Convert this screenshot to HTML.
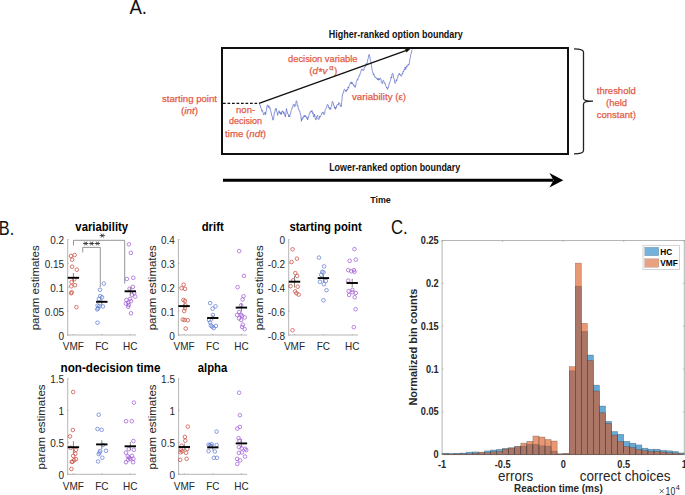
<!DOCTYPE html>
<html><head><meta charset="utf-8"><style>
html,body{margin:0;padding:0;background:#fff;width:685px;height:495px;overflow:hidden}
svg{display:block;font-family:"Liberation Sans",sans-serif}
</style></head><body>
<svg width="685" height="495" viewBox="0 0 685 495">
<text x="129.4" y="14.4" font-size="20" fill="#111" textLength="17.6" lengthAdjust="spacingAndGlyphs">A.</text>
<text x="328.8" y="37.9" font-size="10" font-weight="bold" fill="#111" textLength="134" lengthAdjust="spacingAndGlyphs">Higher-ranked option boundary</text>
<rect x="222" y="48" width="346" height="106" fill="none" stroke="#111" stroke-width="2"/>
<text x="329.2" y="170.9" font-size="10" font-weight="bold" fill="#111" textLength="131" lengthAdjust="spacingAndGlyphs">Lower-ranked option boundary</text>
<line x1="223" y1="180.3" x2="553" y2="180.3" stroke="#000" stroke-width="3"/>
<path d="M549.4,172.9 L563.3,180.2 L549.4,187.4 L553.6,180.2 Z" fill="#000"/>
<text x="370.2" y="202.7" font-size="9.3" font-weight="bold" fill="#111" textLength="20.6" lengthAdjust="spacingAndGlyphs">Time</text>
<path d="M574,48.8 Q583.5,48.8 583.5,52 L583.5,98.5 Q583.5,101.2 593,101.2 Q583.5,101.2 583.5,104 L583.5,150.5 Q583.5,153.8 574,153.8" fill="none" stroke="#222" stroke-width="1.3"/>
<text x="616.3" y="94.1" font-size="9.8" fill="#e25a45" stroke="#e25a45" stroke-width="0.25" text-anchor="middle" textLength="39" lengthAdjust="spacingAndGlyphs">threshold</text>
<text x="616.5" y="105.9" font-size="9.8" fill="#e25a45" stroke="#e25a45" stroke-width="0.25" text-anchor="middle" textLength="21" lengthAdjust="spacingAndGlyphs">(held</text>
<text x="616.3" y="117.7" font-size="9.8" fill="#e25a45" stroke="#e25a45" stroke-width="0.25" text-anchor="middle" textLength="39" lengthAdjust="spacingAndGlyphs">constant)</text>
<text x="189.5" y="102.1" font-size="9.8" fill="#e25a45" stroke="#e25a45" stroke-width="0.25" text-anchor="middle" textLength="55" lengthAdjust="spacingAndGlyphs">starting point</text>
<text x="189.5" y="114.3" font-size="9.8" fill="#e25a45" stroke="#e25a45" stroke-width="0.25" text-anchor="middle" textLength="17" lengthAdjust="spacingAndGlyphs">(<tspan font-style="italic">int</tspan>)</text>
<text x="245.6" y="112.6" font-size="9.8" fill="#e25a45" stroke="#e25a45" stroke-width="0.25" text-anchor="middle" textLength="19" lengthAdjust="spacingAndGlyphs">non-</text>
<text x="245.6" y="124.4" font-size="9.8" fill="#e25a45" stroke="#e25a45" stroke-width="0.25" text-anchor="middle" textLength="33" lengthAdjust="spacingAndGlyphs">decision</text>
<text x="245.6" y="137.0" font-size="9.8" fill="#e25a45" stroke="#e25a45" stroke-width="0.25" text-anchor="middle" textLength="41" lengthAdjust="spacingAndGlyphs">time (<tspan font-style="italic">ndt</tspan>)</text>
<text x="322.8" y="61.8" font-size="9.8" fill="#e25a45" stroke="#e25a45" stroke-width="0.25" text-anchor="middle" textLength="69.5" lengthAdjust="spacingAndGlyphs">decision variable</text>
<text y="74.3" font-size="9.8" fill="#e25a45" stroke="#e25a45" stroke-width="0.25"><tspan x="309.2">(</tspan><tspan x="312.6" font-style="italic">d</tspan><tspan x="318.4" y="75.6" font-size="10.5">*</tspan><tspan x="322.4" y="74.3" font-style="italic">v</tspan><tspan x="329.3" y="70.4" font-size="7.2">α</tspan><tspan x="333.9" y="74.3">)</tspan></text>
<text x="379" y="100.2" font-size="9.8" fill="#e25a45" stroke="#e25a45" stroke-width="0.25" text-anchor="middle" textLength="54" lengthAdjust="spacingAndGlyphs">variability (ε)</text>
<line x1="223" y1="103.4" x2="259" y2="103.4" stroke="#111" stroke-width="1.2" stroke-dasharray="2.7,1.8"/>
<polyline points="259.4,103.0 259.9,105.3 260.3,105.4 260.8,108.1 261.4,108.5 261.9,111.3 262.4,110.3 263.0,112.5 263.4,113.4 263.8,115.0 264.4,113.3 264.9,112.2 265.2,112.1 265.6,114.7 266.1,111.7 266.5,110.5 266.9,106.1 267.4,105.2 267.9,104.9 268.4,107.5 269.0,105.9 269.5,108.3 270.0,107.8 270.5,110.3 271.0,111.8 271.6,115.1 272.2,116.2 272.7,119.5 273.2,120.2 273.8,117.3 274.3,112.5 274.8,112.6 275.2,109.2 275.7,109.6 276.2,108.1 276.7,111.7 277.1,112.0 277.6,115.4 278.1,113.2 278.6,112.6 279.1,110.7 279.6,113.2 280.0,112.2 280.5,114.3 281.0,112.5 281.4,114.4 281.9,111.3 282.4,111.8 282.9,110.8 283.4,113.5 283.9,111.9 284.4,114.4 284.9,114.0 285.1,116.9 285.3,116.9 285.9,114.1 286.4,108.5 286.9,110.8 287.3,111.7 287.8,114.0 288.3,114.2 288.8,116.9 289.2,115.4 289.7,116.9 290.1,114.0 290.6,113.9 291.1,110.5 291.5,109.6 292.1,107.6 292.6,107.8 293.1,104.8 293.7,104.5 294.2,104.0 294.6,106.9 295.1,106.0 295.6,105.4 296.1,101.1 296.6,100.8 297.0,102.1 297.3,106.0 297.8,105.5 298.3,109.0 298.8,108.9 299.3,111.1 299.8,111.0 300.3,114.0 300.9,116.2 301.4,121.3 301.9,118.5 302.4,119.4 302.9,117.0 303.4,117.7 304.0,115.5 304.6,116.9 305.1,115.2 305.6,117.1 306.1,116.4 306.7,118.4 307.2,117.6 307.7,119.9 308.1,117.0 308.6,117.4 309.1,114.3 309.5,114.1 310.0,112.2 310.4,112.4 310.9,110.8 311.4,111.9 312.0,110.5 312.6,113.5 313.1,112.6 313.3,115.2 313.5,117.0 314.1,116.6 314.6,114.1 315.1,117.4 315.7,119.9 316.2,119.6 316.7,116.3 317.2,115.5 317.7,115.4 318.1,119.4 318.6,119.2 319.2,119.2 319.7,115.9 320.2,117.1 320.8,115.5 321.4,115.0 321.9,112.7 322.4,113.1 323.0,111.9 323.6,113.9 324.1,114.8 324.6,113.9 325.0,110.4 325.5,109.7 326.1,107.9 326.6,107.5 327.1,104.5 327.7,104.6 328.2,104.9 328.7,108.0 329.2,107.5 329.7,109.5 330.2,107.9 330.7,109.3 331.1,106.4 331.6,106.2 332.1,102.2 332.5,101.3 333.1,102.3 333.6,105.3 334.1,105.3 334.5,108.3 334.9,106.9 335.4,109.3 335.8,107.4 336.3,108.1 336.8,105.1 337.2,105.3 337.8,104.3 338.3,105.1 338.8,102.5 339.4,103.5 339.8,103.4 340.3,106.1 340.8,105.7 341.2,106.8 341.6,102.7 342.0,100.2 342.2,96.3 342.5,94.4 343.0,92.8 343.5,92.9 344.0,89.6 344.5,89.4 345.0,89.5 345.6,91.5 346.1,90.0 346.6,91.4 347.1,89.2 347.6,89.9 348.1,87.0 348.6,88.2 349.1,85.6 349.6,84.8 350.1,83.4 350.6,83.9 351.1,81.8 351.6,83.8 352.1,82.2 352.6,84.1 353.1,83.8 353.6,85.7 354.1,84.9 354.7,87.2 355.2,87.4 355.7,86.0 356.2,82.6 356.7,81.3 357.2,79.4 357.7,80.2 358.2,77.9 358.7,77.8 359.2,75.3 359.7,75.6 360.2,73.0 360.7,72.7 361.2,69.8 361.7,69.2 362.2,68.9 362.7,70.4 363.2,70.2 363.7,70.5 364.2,67.6 364.8,67.7 365.3,66.2 365.8,66.2 366.2,63.5 366.7,64.3 367.1,63.1 367.5,61.8 367.8,59.1 368.3,58.3 368.8,54.7 369.3,54.5 369.8,56.5 370.3,60.1 370.8,61.3 371.3,65.2 371.8,67.7 372.3,71.2 372.8,71.8 373.3,74.8 373.8,73.7 374.3,76.3 374.8,76.0 375.4,77.9 375.9,77.4 376.4,78.3 376.9,77.9 377.4,79.8 377.9,78.5 378.4,80.3 378.9,78.5 379.4,79.8 379.9,78.2 380.4,78.3 380.9,78.7 381.4,82.7 381.9,83.3 382.4,83.6 382.9,80.6 383.4,80.3 383.9,81.1 384.4,83.5 385.0,82.9 385.5,85.4 386.0,85.8 386.6,88.1 387.1,87.6 387.6,89.4 388.1,87.1 388.6,87.2 389.1,83.5 389.6,83.4 390.1,81.2 390.6,80.3 391.1,76.9 391.6,78.0 392.1,73.5 392.6,73.3 393.1,74.1 393.6,78.1 394.1,78.3 394.6,82.3 395.2,83.4 395.7,82.7 396.2,79.7 396.7,80.9 397.2,78.3 397.7,78.1 398.2,74.9 398.7,75.2 399.2,73.3 399.7,74.8 400.2,74.2 400.7,75.9 401.2,76.3 401.7,76.1 402.2,73.3 402.7,74.0 403.2,71.2 403.7,71.8 404.2,69.2 404.7,69.9 405.2,67.0 405.8,69.4 406.3,66.2 406.8,67.2 407.3,65.5 407.8,66.1 408.3,63.9 408.8,64.9 409.3,63.7 409.6,62.1 409.8,59.1 410.3,57.7 410.8,54.1 411.3,53.5 411.8,50.2 412.3,49.5" fill="none" stroke="#4a5cc2" stroke-width="0.65" stroke-linejoin="round"/>
<line x1="259" y1="103.4" x2="406.5" y2="50.3" stroke="#111" stroke-width="1.4"/>
<path d="M410.2,48.9 L405.0,48.4 L406.5,52.5 Z" fill="#111"/>
<text x="-1.2" y="234.6" font-size="20" fill="#111" textLength="15.4" lengthAdjust="spacingAndGlyphs">B.</text>
<line x1="67.7" y1="239.5" x2="67.7" y2="335.5" stroke="#b5b5b5" stroke-width="1"/>
<line x1="67.2" y1="335" x2="136" y2="335" stroke="#b5b5b5" stroke-width="1"/>
<line x1="67.7" y1="335.0" x2="68.7" y2="335.0" stroke="#888" stroke-width="0.6"/>
<text transform="translate(64.10,339.90) scale(1,1.05)" font-size="10" font-weight="normal" fill="#262626" text-anchor="end" >0</text>
<line x1="67.7" y1="311.1" x2="68.7" y2="311.1" stroke="#888" stroke-width="0.6"/>
<text transform="translate(64.10,316.02) scale(1,1.05)" font-size="10" font-weight="normal" fill="#262626" text-anchor="end" >0.05</text>
<line x1="67.7" y1="287.2" x2="68.7" y2="287.2" stroke="#888" stroke-width="0.6"/>
<text transform="translate(64.10,292.15) scale(1,1.05)" font-size="10" font-weight="normal" fill="#262626" text-anchor="end" >0.1</text>
<line x1="67.7" y1="263.4" x2="68.7" y2="263.4" stroke="#888" stroke-width="0.6"/>
<text transform="translate(64.10,268.27) scale(1,1.05)" font-size="10" font-weight="normal" fill="#262626" text-anchor="end" >0.15</text>
<line x1="67.7" y1="239.5" x2="68.7" y2="239.5" stroke="#888" stroke-width="0.6"/>
<text transform="translate(64.10,244.40) scale(1,1.05)" font-size="10" font-weight="normal" fill="#262626" text-anchor="end" >0.2</text>
<line x1="73.4" y1="335" x2="73.4" y2="334" stroke="#888" stroke-width="0.6"/>
<text transform="translate(73.39,350.30) scale(1,1.05)" font-size="10" font-weight="normal" fill="#262626" text-anchor="middle" >VMF</text>
<line x1="101.8" y1="335" x2="101.8" y2="334" stroke="#888" stroke-width="0.6"/>
<text transform="translate(101.85,350.30) scale(1,1.05)" font-size="10" font-weight="normal" fill="#262626" text-anchor="middle" >FC</text>
<line x1="130.3" y1="335" x2="130.3" y2="334" stroke="#888" stroke-width="0.6"/>
<text transform="translate(130.31,350.30) scale(1,1.05)" font-size="10" font-weight="normal" fill="#262626" text-anchor="middle" >HC</text>
<text transform="translate(101.70,231.20) scale(1,1.07)" font-size="11.3" font-weight="bold" fill="#000" text-anchor="middle" >variability</text>
<text transform="translate(39.4,287.8) rotate(-90)" font-size="11" fill="#262626" text-anchor="middle" textLength="85" lengthAdjust="spacingAndGlyphs">param estimates</text>
<circle cx="71" cy="256" r="1.8" fill="none" stroke="#c8453a" stroke-width="0.72"/>
<circle cx="74.6" cy="255" r="1.8" fill="none" stroke="#c8453a" stroke-width="0.72"/>
<circle cx="72.1" cy="259.7" r="1.8" fill="none" stroke="#c8453a" stroke-width="0.72"/>
<circle cx="72.1" cy="266.7" r="1.8" fill="none" stroke="#c8453a" stroke-width="0.72"/>
<circle cx="76.8" cy="269.7" r="1.8" fill="none" stroke="#c8453a" stroke-width="0.72"/>
<circle cx="74.2" cy="279.2" r="1.8" fill="none" stroke="#c8453a" stroke-width="0.72"/>
<circle cx="71.6" cy="282.1" r="1.8" fill="none" stroke="#c8453a" stroke-width="0.72"/>
<circle cx="75" cy="285.2" r="1.8" fill="none" stroke="#c8453a" stroke-width="0.72"/>
<circle cx="71.3" cy="286.3" r="1.8" fill="none" stroke="#c8453a" stroke-width="0.72"/>
<circle cx="71.1" cy="293.2" r="1.8" fill="none" stroke="#c8453a" stroke-width="0.72"/>
<circle cx="71.8" cy="292.3" r="1.8" fill="none" stroke="#c8453a" stroke-width="0.72"/>
<circle cx="76.4" cy="307.2" r="1.8" fill="none" stroke="#c8453a" stroke-width="0.72"/>
<circle cx="103.8" cy="283.6" r="1.8" fill="none" stroke="#5a78d0" stroke-width="0.72"/>
<circle cx="100" cy="289.8" r="1.8" fill="none" stroke="#5a78d0" stroke-width="0.72"/>
<circle cx="100.3" cy="296.1" r="1.8" fill="none" stroke="#5a78d0" stroke-width="0.72"/>
<circle cx="102" cy="297.3" r="1.8" fill="none" stroke="#5a78d0" stroke-width="0.72"/>
<circle cx="98.9" cy="299" r="1.8" fill="none" stroke="#5a78d0" stroke-width="0.72"/>
<circle cx="97.6" cy="305.5" r="1.8" fill="none" stroke="#5a78d0" stroke-width="0.72"/>
<circle cx="99.3" cy="306" r="1.8" fill="none" stroke="#5a78d0" stroke-width="0.72"/>
<circle cx="103" cy="306.5" r="1.8" fill="none" stroke="#5a78d0" stroke-width="0.72"/>
<circle cx="98.1" cy="308.4" r="1.8" fill="none" stroke="#5a78d0" stroke-width="0.72"/>
<circle cx="97.2" cy="309.4" r="1.8" fill="none" stroke="#5a78d0" stroke-width="0.72"/>
<circle cx="97.5" cy="322.7" r="1.8" fill="none" stroke="#5a78d0" stroke-width="0.72"/>
<circle cx="128.9" cy="244.3" r="1.8" fill="none" stroke="#9d58d4" stroke-width="0.72"/>
<circle cx="130.9" cy="252.9" r="1.8" fill="none" stroke="#9d58d4" stroke-width="0.72"/>
<circle cx="126.8" cy="279" r="1.8" fill="none" stroke="#9d58d4" stroke-width="0.72"/>
<circle cx="133.3" cy="277.8" r="1.8" fill="none" stroke="#9d58d4" stroke-width="0.72"/>
<circle cx="132.9" cy="286.9" r="1.8" fill="none" stroke="#9d58d4" stroke-width="0.72"/>
<circle cx="129.6" cy="288.7" r="1.8" fill="none" stroke="#9d58d4" stroke-width="0.72"/>
<circle cx="134.2" cy="292.9" r="1.8" fill="none" stroke="#9d58d4" stroke-width="0.72"/>
<circle cx="131.9" cy="294.7" r="1.8" fill="none" stroke="#9d58d4" stroke-width="0.72"/>
<circle cx="135.2" cy="296.6" r="1.8" fill="none" stroke="#9d58d4" stroke-width="0.72"/>
<circle cx="126.4" cy="299.9" r="1.8" fill="none" stroke="#9d58d4" stroke-width="0.72"/>
<circle cx="130.1" cy="298.9" r="1.8" fill="none" stroke="#9d58d4" stroke-width="0.72"/>
<circle cx="131" cy="301.2" r="1.8" fill="none" stroke="#9d58d4" stroke-width="0.72"/>
<circle cx="125.9" cy="303.6" r="1.8" fill="none" stroke="#9d58d4" stroke-width="0.72"/>
<circle cx="128.2" cy="302.6" r="1.8" fill="none" stroke="#9d58d4" stroke-width="0.72"/>
<circle cx="128.7" cy="305" r="1.8" fill="none" stroke="#9d58d4" stroke-width="0.72"/>
<circle cx="128.2" cy="306.8" r="1.8" fill="none" stroke="#9d58d4" stroke-width="0.72"/>
<circle cx="131" cy="313.3" r="1.8" fill="none" stroke="#9d58d4" stroke-width="0.72"/>
<line x1="73.4" y1="273" x2="73.4" y2="282.6" stroke="#858585" stroke-width="1"/>
<line x1="67.7" y1="277.8" x2="79.1" y2="277.8" stroke="#000" stroke-width="1.9"/>
<line x1="101.8" y1="299.2" x2="101.8" y2="305.5" stroke="#858585" stroke-width="1"/>
<line x1="96.1" y1="301.8" x2="107.5" y2="301.8" stroke="#000" stroke-width="1.9"/>
<line x1="130.3" y1="287.3" x2="130.3" y2="295.2" stroke="#858585" stroke-width="1"/>
<line x1="124.6" y1="291.3" x2="136.0" y2="291.3" stroke="#000" stroke-width="1.9"/>
<path d="M73.5,245.5 V240.3 H124.7 V283.6" fill="none" stroke="#8a8a8a" stroke-width="0.9"/>
<path d="M82.7,252.5 V247.4 H100.3 V287.3" fill="none" stroke="#8a8a8a" stroke-width="0.9"/>
<path d="M99.70,235.60L104.90,235.60M101.00,233.69L103.60,237.51M103.60,233.69L101.00,237.51" stroke="#333" stroke-width="0.9" fill="none"/>
<path d="M83.10,243.50L88.30,243.50M84.40,241.59L87.00,245.41M87.00,241.59L84.40,245.41" stroke="#333" stroke-width="0.9" fill="none"/>
<path d="M89.10,243.50L94.30,243.50M90.40,241.59L93.00,245.41M93.00,241.59L90.40,245.41" stroke="#333" stroke-width="0.9" fill="none"/>
<path d="M94.90,243.50L100.10,243.50M96.20,241.59L98.80,245.41M98.80,241.59L96.20,245.41" stroke="#333" stroke-width="0.9" fill="none"/>
<line x1="178.4" y1="239.5" x2="178.4" y2="335.5" stroke="#b5b5b5" stroke-width="1"/>
<line x1="177.9" y1="335" x2="247.1" y2="335" stroke="#b5b5b5" stroke-width="1"/>
<line x1="178.4" y1="335.0" x2="179.4" y2="335.0" stroke="#888" stroke-width="0.6"/>
<text transform="translate(174.80,339.90) scale(1,1.05)" font-size="10" font-weight="normal" fill="#262626" text-anchor="end" >0</text>
<line x1="178.4" y1="311.1" x2="179.4" y2="311.1" stroke="#888" stroke-width="0.6"/>
<text transform="translate(174.80,316.02) scale(1,1.05)" font-size="10" font-weight="normal" fill="#262626" text-anchor="end" >0.1</text>
<line x1="178.4" y1="287.2" x2="179.4" y2="287.2" stroke="#888" stroke-width="0.6"/>
<text transform="translate(174.80,292.15) scale(1,1.05)" font-size="10" font-weight="normal" fill="#262626" text-anchor="end" >0.2</text>
<line x1="178.4" y1="263.4" x2="179.4" y2="263.4" stroke="#888" stroke-width="0.6"/>
<text transform="translate(174.80,268.27) scale(1,1.05)" font-size="10" font-weight="normal" fill="#262626" text-anchor="end" >0.3</text>
<line x1="178.4" y1="239.5" x2="179.4" y2="239.5" stroke="#888" stroke-width="0.6"/>
<text transform="translate(174.80,244.40) scale(1,1.05)" font-size="10" font-weight="normal" fill="#262626" text-anchor="end" >0.4</text>
<line x1="184.1" y1="335" x2="184.1" y2="334" stroke="#888" stroke-width="0.6"/>
<text transform="translate(184.12,350.30) scale(1,1.05)" font-size="10" font-weight="normal" fill="#262626" text-anchor="middle" >VMF</text>
<line x1="212.8" y1="335" x2="212.8" y2="334" stroke="#888" stroke-width="0.6"/>
<text transform="translate(212.75,350.30) scale(1,1.05)" font-size="10" font-weight="normal" fill="#262626" text-anchor="middle" >FC</text>
<line x1="241.4" y1="335" x2="241.4" y2="334" stroke="#888" stroke-width="0.6"/>
<text transform="translate(241.38,350.30) scale(1,1.05)" font-size="10" font-weight="normal" fill="#262626" text-anchor="middle" >HC</text>
<text transform="translate(212.70,231.20) scale(1,1.07)" font-size="11.3" font-weight="bold" fill="#000" text-anchor="middle" >drift</text>
<text transform="translate(156.3,287.8) rotate(-90)" font-size="11" fill="#262626" text-anchor="middle" textLength="85" lengthAdjust="spacingAndGlyphs">param estimates</text>
<circle cx="183.6" cy="284.7" r="1.8" fill="none" stroke="#c8453a" stroke-width="0.72"/>
<circle cx="181.5" cy="288.2" r="1.8" fill="none" stroke="#c8453a" stroke-width="0.72"/>
<circle cx="185" cy="288.9" r="1.8" fill="none" stroke="#c8453a" stroke-width="0.72"/>
<circle cx="183.4" cy="300" r="1.8" fill="none" stroke="#c8453a" stroke-width="0.72"/>
<circle cx="185" cy="301" r="1.8" fill="none" stroke="#c8453a" stroke-width="0.72"/>
<circle cx="185.3" cy="305.3" r="1.8" fill="none" stroke="#c8453a" stroke-width="0.72"/>
<circle cx="185" cy="308.2" r="1.8" fill="none" stroke="#c8453a" stroke-width="0.72"/>
<circle cx="184.2" cy="311" r="1.8" fill="none" stroke="#c8453a" stroke-width="0.72"/>
<circle cx="182.8" cy="319.5" r="1.8" fill="none" stroke="#c8453a" stroke-width="0.72"/>
<circle cx="184.6" cy="320" r="1.8" fill="none" stroke="#c8453a" stroke-width="0.72"/>
<circle cx="187.8" cy="320.2" r="1.8" fill="none" stroke="#c8453a" stroke-width="0.72"/>
<circle cx="185.7" cy="328.6" r="1.8" fill="none" stroke="#c8453a" stroke-width="0.72"/>
<circle cx="210.1" cy="303.1" r="1.8" fill="none" stroke="#5a78d0" stroke-width="0.72"/>
<circle cx="215.5" cy="306.3" r="1.8" fill="none" stroke="#5a78d0" stroke-width="0.72"/>
<circle cx="212.6" cy="308.6" r="1.8" fill="none" stroke="#5a78d0" stroke-width="0.72"/>
<circle cx="212.9" cy="315" r="1.8" fill="none" stroke="#5a78d0" stroke-width="0.72"/>
<circle cx="209.1" cy="320" r="1.8" fill="none" stroke="#5a78d0" stroke-width="0.72"/>
<circle cx="210.1" cy="322.4" r="1.8" fill="none" stroke="#5a78d0" stroke-width="0.72"/>
<circle cx="210.9" cy="325.5" r="1.8" fill="none" stroke="#5a78d0" stroke-width="0.72"/>
<circle cx="215.9" cy="326" r="1.8" fill="none" stroke="#5a78d0" stroke-width="0.72"/>
<circle cx="213.7" cy="328.1" r="1.8" fill="none" stroke="#5a78d0" stroke-width="0.72"/>
<circle cx="212.2" cy="326.6" r="1.8" fill="none" stroke="#5a78d0" stroke-width="0.72"/>
<circle cx="239.1" cy="251.1" r="1.8" fill="none" stroke="#9d58d4" stroke-width="0.72"/>
<circle cx="243.9" cy="275.9" r="1.8" fill="none" stroke="#9d58d4" stroke-width="0.72"/>
<circle cx="237.6" cy="287.1" r="1.8" fill="none" stroke="#9d58d4" stroke-width="0.72"/>
<circle cx="243.6" cy="296.3" r="1.8" fill="none" stroke="#9d58d4" stroke-width="0.72"/>
<circle cx="242.6" cy="299.5" r="1.8" fill="none" stroke="#9d58d4" stroke-width="0.72"/>
<circle cx="241.1" cy="305.3" r="1.8" fill="none" stroke="#9d58d4" stroke-width="0.72"/>
<circle cx="239.2" cy="312.1" r="1.8" fill="none" stroke="#9d58d4" stroke-width="0.72"/>
<circle cx="237.1" cy="314.9" r="1.8" fill="none" stroke="#9d58d4" stroke-width="0.72"/>
<circle cx="240.8" cy="314.7" r="1.8" fill="none" stroke="#9d58d4" stroke-width="0.72"/>
<circle cx="242.1" cy="315.8" r="1.8" fill="none" stroke="#9d58d4" stroke-width="0.72"/>
<circle cx="244.7" cy="317.4" r="1.8" fill="none" stroke="#9d58d4" stroke-width="0.72"/>
<circle cx="239" cy="318.4" r="1.8" fill="none" stroke="#9d58d4" stroke-width="0.72"/>
<circle cx="241.2" cy="320" r="1.8" fill="none" stroke="#9d58d4" stroke-width="0.72"/>
<circle cx="242.8" cy="324.7" r="1.8" fill="none" stroke="#9d58d4" stroke-width="0.72"/>
<circle cx="242.1" cy="327" r="1.8" fill="none" stroke="#9d58d4" stroke-width="0.72"/>
<circle cx="244.6" cy="329.1" r="1.8" fill="none" stroke="#9d58d4" stroke-width="0.72"/>
<line x1="184.1" y1="303.4" x2="184.1" y2="308.6" stroke="#858585" stroke-width="1"/>
<line x1="178.4" y1="306.1" x2="189.8" y2="306.1" stroke="#000" stroke-width="1.9"/>
<line x1="212.8" y1="315.1" x2="212.8" y2="320.6" stroke="#858585" stroke-width="1"/>
<line x1="207.1" y1="318" x2="218.4" y2="318" stroke="#000" stroke-width="1.9"/>
<line x1="241.4" y1="303.2" x2="241.4" y2="311.6" stroke="#858585" stroke-width="1"/>
<line x1="235.7" y1="307.6" x2="247.1" y2="307.6" stroke="#000" stroke-width="1.9"/>
<line x1="288.7" y1="239.5" x2="288.7" y2="335.5" stroke="#b5b5b5" stroke-width="1"/>
<line x1="288.2" y1="335" x2="358" y2="335" stroke="#b5b5b5" stroke-width="1"/>
<line x1="288.7" y1="335.0" x2="289.7" y2="335.0" stroke="#888" stroke-width="0.6"/>
<text transform="translate(285.10,339.90) scale(1,1.05)" font-size="10" font-weight="normal" fill="#262626" text-anchor="end" >-0.8</text>
<line x1="288.7" y1="311.1" x2="289.7" y2="311.1" stroke="#888" stroke-width="0.6"/>
<text transform="translate(285.10,316.02) scale(1,1.05)" font-size="10" font-weight="normal" fill="#262626" text-anchor="end" >-0.6</text>
<line x1="288.7" y1="287.2" x2="289.7" y2="287.2" stroke="#888" stroke-width="0.6"/>
<text transform="translate(285.10,292.15) scale(1,1.05)" font-size="10" font-weight="normal" fill="#262626" text-anchor="end" >-0.4</text>
<line x1="288.7" y1="263.4" x2="289.7" y2="263.4" stroke="#888" stroke-width="0.6"/>
<text transform="translate(285.10,268.27) scale(1,1.05)" font-size="10" font-weight="normal" fill="#262626" text-anchor="end" >-0.2</text>
<line x1="288.7" y1="239.5" x2="289.7" y2="239.5" stroke="#888" stroke-width="0.6"/>
<text transform="translate(285.10,244.40) scale(1,1.05)" font-size="10" font-weight="normal" fill="#262626" text-anchor="end" >0</text>
<line x1="294.5" y1="335" x2="294.5" y2="334" stroke="#888" stroke-width="0.6"/>
<text transform="translate(294.47,350.30) scale(1,1.05)" font-size="10" font-weight="normal" fill="#262626" text-anchor="middle" >VMF</text>
<line x1="323.4" y1="335" x2="323.4" y2="334" stroke="#888" stroke-width="0.6"/>
<text transform="translate(323.35,350.30) scale(1,1.05)" font-size="10" font-weight="normal" fill="#262626" text-anchor="middle" >FC</text>
<line x1="352.2" y1="335" x2="352.2" y2="334" stroke="#888" stroke-width="0.6"/>
<text transform="translate(352.23,350.30) scale(1,1.05)" font-size="10" font-weight="normal" fill="#262626" text-anchor="middle" >HC</text>
<text transform="translate(325.60,231.20) scale(1,1.07)" font-size="11.3" font-weight="bold" fill="#000" text-anchor="middle" >starting point</text>
<text transform="translate(262.7,287.8) rotate(-90)" font-size="11" fill="#262626" text-anchor="middle" textLength="85" lengthAdjust="spacingAndGlyphs">param estimates</text>
<circle cx="292.6" cy="249.3" r="1.8" fill="none" stroke="#c8453a" stroke-width="0.72"/>
<circle cx="296.9" cy="258.7" r="1.8" fill="none" stroke="#c8453a" stroke-width="0.72"/>
<circle cx="291.6" cy="262" r="1.8" fill="none" stroke="#c8453a" stroke-width="0.72"/>
<circle cx="295.3" cy="273.1" r="1.8" fill="none" stroke="#c8453a" stroke-width="0.72"/>
<circle cx="297.1" cy="275.9" r="1.8" fill="none" stroke="#c8453a" stroke-width="0.72"/>
<circle cx="293.2" cy="280.3" r="1.8" fill="none" stroke="#c8453a" stroke-width="0.72"/>
<circle cx="290.6" cy="286.2" r="1.8" fill="none" stroke="#c8453a" stroke-width="0.72"/>
<circle cx="297.7" cy="286.7" r="1.8" fill="none" stroke="#c8453a" stroke-width="0.72"/>
<circle cx="295.1" cy="291.4" r="1.8" fill="none" stroke="#c8453a" stroke-width="0.72"/>
<circle cx="296.4" cy="293.3" r="1.8" fill="none" stroke="#c8453a" stroke-width="0.72"/>
<circle cx="298.7" cy="294.6" r="1.8" fill="none" stroke="#c8453a" stroke-width="0.72"/>
<circle cx="292.5" cy="330.3" r="1.8" fill="none" stroke="#c8453a" stroke-width="0.72"/>
<circle cx="319" cy="257.6" r="1.8" fill="none" stroke="#5a78d0" stroke-width="0.72"/>
<circle cx="324.1" cy="266.4" r="1.8" fill="none" stroke="#5a78d0" stroke-width="0.72"/>
<circle cx="322.3" cy="271.8" r="1.8" fill="none" stroke="#5a78d0" stroke-width="0.72"/>
<circle cx="323.5" cy="272.4" r="1.8" fill="none" stroke="#5a78d0" stroke-width="0.72"/>
<circle cx="321.1" cy="274.8" r="1.8" fill="none" stroke="#5a78d0" stroke-width="0.72"/>
<circle cx="319.9" cy="281.8" r="1.8" fill="none" stroke="#5a78d0" stroke-width="0.72"/>
<circle cx="325.9" cy="280.9" r="1.8" fill="none" stroke="#5a78d0" stroke-width="0.72"/>
<circle cx="323.9" cy="284.2" r="1.8" fill="none" stroke="#5a78d0" stroke-width="0.72"/>
<circle cx="326.5" cy="290.2" r="1.8" fill="none" stroke="#5a78d0" stroke-width="0.72"/>
<circle cx="323.5" cy="300.3" r="1.8" fill="none" stroke="#5a78d0" stroke-width="0.72"/>
<circle cx="354.5" cy="249.1" r="1.8" fill="none" stroke="#9d58d4" stroke-width="0.72"/>
<circle cx="349.7" cy="260.8" r="1.8" fill="none" stroke="#9d58d4" stroke-width="0.72"/>
<circle cx="355.8" cy="259.6" r="1.8" fill="none" stroke="#9d58d4" stroke-width="0.72"/>
<circle cx="348.2" cy="270.1" r="1.8" fill="none" stroke="#9d58d4" stroke-width="0.72"/>
<circle cx="351.2" cy="271.3" r="1.8" fill="none" stroke="#9d58d4" stroke-width="0.72"/>
<circle cx="353.9" cy="270.1" r="1.8" fill="none" stroke="#9d58d4" stroke-width="0.72"/>
<circle cx="354.5" cy="271.8" r="1.8" fill="none" stroke="#9d58d4" stroke-width="0.72"/>
<circle cx="348.2" cy="280.6" r="1.8" fill="none" stroke="#9d58d4" stroke-width="0.72"/>
<circle cx="348.6" cy="291.1" r="1.8" fill="none" stroke="#9d58d4" stroke-width="0.72"/>
<circle cx="352.4" cy="290" r="1.8" fill="none" stroke="#9d58d4" stroke-width="0.72"/>
<circle cx="355.8" cy="293" r="1.8" fill="none" stroke="#9d58d4" stroke-width="0.72"/>
<circle cx="349.1" cy="295" r="1.8" fill="none" stroke="#9d58d4" stroke-width="0.72"/>
<circle cx="352.4" cy="292.2" r="1.8" fill="none" stroke="#9d58d4" stroke-width="0.72"/>
<circle cx="354.7" cy="297.2" r="1.8" fill="none" stroke="#9d58d4" stroke-width="0.72"/>
<circle cx="355.6" cy="309.2" r="1.8" fill="none" stroke="#9d58d4" stroke-width="0.72"/>
<circle cx="353.8" cy="327.2" r="1.8" fill="none" stroke="#9d58d4" stroke-width="0.72"/>
<line x1="294.5" y1="275.9" x2="294.5" y2="287.5" stroke="#858585" stroke-width="1"/>
<line x1="288.8" y1="281.7" x2="300.2" y2="281.7" stroke="#000" stroke-width="1.9"/>
<line x1="323.4" y1="274.5" x2="323.4" y2="282" stroke="#858585" stroke-width="1"/>
<line x1="317.7" y1="278.1" x2="329.1" y2="278.1" stroke="#000" stroke-width="1.9"/>
<line x1="352.2" y1="278.8" x2="352.2" y2="287.3" stroke="#858585" stroke-width="1"/>
<line x1="346.5" y1="283" x2="357.9" y2="283" stroke="#000" stroke-width="1.9"/>
<line x1="67.7" y1="378.5" x2="67.7" y2="474.8" stroke="#b5b5b5" stroke-width="1"/>
<line x1="67.2" y1="474.3" x2="136" y2="474.3" stroke="#b5b5b5" stroke-width="1"/>
<line x1="67.7" y1="474.3" x2="68.7" y2="474.3" stroke="#888" stroke-width="0.6"/>
<text transform="translate(64.10,479.20) scale(1,1.05)" font-size="10" font-weight="normal" fill="#262626" text-anchor="end" >0</text>
<line x1="67.7" y1="442.4" x2="68.7" y2="442.4" stroke="#888" stroke-width="0.6"/>
<text transform="translate(64.10,447.27) scale(1,1.05)" font-size="10" font-weight="normal" fill="#262626" text-anchor="end" >0.5</text>
<line x1="67.7" y1="410.4" x2="68.7" y2="410.4" stroke="#888" stroke-width="0.6"/>
<text transform="translate(64.10,415.33) scale(1,1.05)" font-size="10" font-weight="normal" fill="#262626" text-anchor="end" >1</text>
<line x1="67.7" y1="378.5" x2="68.7" y2="378.5" stroke="#888" stroke-width="0.6"/>
<text transform="translate(64.10,383.40) scale(1,1.05)" font-size="10" font-weight="normal" fill="#262626" text-anchor="end" >1.5</text>
<line x1="73.4" y1="474.3" x2="73.4" y2="473.3" stroke="#888" stroke-width="0.6"/>
<text transform="translate(73.39,489.60) scale(1,1.05)" font-size="10" font-weight="normal" fill="#262626" text-anchor="middle" >VMF</text>
<line x1="101.8" y1="474.3" x2="101.8" y2="473.3" stroke="#888" stroke-width="0.6"/>
<text transform="translate(101.85,489.60) scale(1,1.05)" font-size="10" font-weight="normal" fill="#262626" text-anchor="middle" >FC</text>
<line x1="130.3" y1="474.3" x2="130.3" y2="473.3" stroke="#888" stroke-width="0.6"/>
<text transform="translate(130.31,489.60) scale(1,1.05)" font-size="10" font-weight="normal" fill="#262626" text-anchor="middle" >HC</text>
<text transform="translate(110.50,371.80) scale(1,1.0334188034188037)" font-size="11.7" font-weight="bold" fill="#000" text-anchor="middle" >non-decision time</text>
<text transform="translate(45.0,426.9) rotate(-90)" font-size="11" fill="#262626" text-anchor="middle" textLength="85" lengthAdjust="spacingAndGlyphs">param estimates</text>
<circle cx="73.2" cy="392" r="1.8" fill="none" stroke="#c8453a" stroke-width="0.72"/>
<circle cx="72.8" cy="430" r="1.8" fill="none" stroke="#c8453a" stroke-width="0.72"/>
<circle cx="70" cy="436.4" r="1.8" fill="none" stroke="#c8453a" stroke-width="0.72"/>
<circle cx="70.7" cy="447.8" r="1.8" fill="none" stroke="#c8453a" stroke-width="0.72"/>
<circle cx="76" cy="449.9" r="1.8" fill="none" stroke="#c8453a" stroke-width="0.72"/>
<circle cx="75.3" cy="453.8" r="1.8" fill="none" stroke="#c8453a" stroke-width="0.72"/>
<circle cx="73.2" cy="455.9" r="1.8" fill="none" stroke="#c8453a" stroke-width="0.72"/>
<circle cx="76" cy="459.1" r="1.8" fill="none" stroke="#c8453a" stroke-width="0.72"/>
<circle cx="74.2" cy="460.1" r="1.8" fill="none" stroke="#c8453a" stroke-width="0.72"/>
<circle cx="71.8" cy="461.9" r="1.8" fill="none" stroke="#c8453a" stroke-width="0.72"/>
<circle cx="72.5" cy="461.6" r="1.8" fill="none" stroke="#c8453a" stroke-width="0.72"/>
<circle cx="71.4" cy="469" r="1.8" fill="none" stroke="#c8453a" stroke-width="0.72"/>
<circle cx="98.7" cy="414.7" r="1.8" fill="none" stroke="#5a78d0" stroke-width="0.72"/>
<circle cx="97.5" cy="429" r="1.8" fill="none" stroke="#5a78d0" stroke-width="0.72"/>
<circle cx="101.7" cy="429.8" r="1.8" fill="none" stroke="#5a78d0" stroke-width="0.72"/>
<circle cx="102.9" cy="445" r="1.8" fill="none" stroke="#5a78d0" stroke-width="0.72"/>
<circle cx="100.2" cy="451.1" r="1.8" fill="none" stroke="#5a78d0" stroke-width="0.72"/>
<circle cx="99.5" cy="452.5" r="1.8" fill="none" stroke="#5a78d0" stroke-width="0.72"/>
<circle cx="106" cy="450.8" r="1.8" fill="none" stroke="#5a78d0" stroke-width="0.72"/>
<circle cx="98.7" cy="454.1" r="1.8" fill="none" stroke="#5a78d0" stroke-width="0.72"/>
<circle cx="102.3" cy="457.7" r="1.8" fill="none" stroke="#5a78d0" stroke-width="0.72"/>
<circle cx="98.1" cy="461.4" r="1.8" fill="none" stroke="#5a78d0" stroke-width="0.72"/>
<circle cx="133.9" cy="402.6" r="1.8" fill="none" stroke="#9d58d4" stroke-width="0.72"/>
<circle cx="126.1" cy="421.2" r="1.8" fill="none" stroke="#9d58d4" stroke-width="0.72"/>
<circle cx="131.8" cy="421.2" r="1.8" fill="none" stroke="#9d58d4" stroke-width="0.72"/>
<circle cx="133.4" cy="441" r="1.8" fill="none" stroke="#9d58d4" stroke-width="0.72"/>
<circle cx="128.8" cy="449.1" r="1.8" fill="none" stroke="#9d58d4" stroke-width="0.72"/>
<circle cx="133.8" cy="449.8" r="1.8" fill="none" stroke="#9d58d4" stroke-width="0.72"/>
<circle cx="126" cy="452.7" r="1.8" fill="none" stroke="#9d58d4" stroke-width="0.72"/>
<circle cx="127.8" cy="456.2" r="1.8" fill="none" stroke="#9d58d4" stroke-width="0.72"/>
<circle cx="132" cy="455.8" r="1.8" fill="none" stroke="#9d58d4" stroke-width="0.72"/>
<circle cx="129.2" cy="457.6" r="1.8" fill="none" stroke="#9d58d4" stroke-width="0.72"/>
<circle cx="130.2" cy="459" r="1.8" fill="none" stroke="#9d58d4" stroke-width="0.72"/>
<circle cx="133.4" cy="458.7" r="1.8" fill="none" stroke="#9d58d4" stroke-width="0.72"/>
<circle cx="126" cy="462.2" r="1.8" fill="none" stroke="#9d58d4" stroke-width="0.72"/>
<circle cx="133.1" cy="462.2" r="1.8" fill="none" stroke="#9d58d4" stroke-width="0.72"/>
<circle cx="128.1" cy="459.7" r="1.8" fill="none" stroke="#9d58d4" stroke-width="0.72"/>
<line x1="73.4" y1="441.1" x2="73.4" y2="453.3" stroke="#858585" stroke-width="1"/>
<line x1="67.7" y1="447.2" x2="79.1" y2="447.2" stroke="#000" stroke-width="1.9"/>
<line x1="101.8" y1="440.2" x2="101.8" y2="449.2" stroke="#858585" stroke-width="1"/>
<line x1="96.1" y1="444.4" x2="107.5" y2="444.4" stroke="#000" stroke-width="1.9"/>
<line x1="130.3" y1="442" x2="130.3" y2="450.2" stroke="#858585" stroke-width="1"/>
<line x1="124.6" y1="446.3" x2="136.0" y2="446.3" stroke="#000" stroke-width="1.9"/>
<line x1="178.6" y1="378.5" x2="178.6" y2="474.8" stroke="#b5b5b5" stroke-width="1"/>
<line x1="178.1" y1="474.3" x2="247.1" y2="474.3" stroke="#b5b5b5" stroke-width="1"/>
<line x1="178.6" y1="474.3" x2="179.6" y2="474.3" stroke="#888" stroke-width="0.6"/>
<text transform="translate(175.00,479.20) scale(1,1.05)" font-size="10" font-weight="normal" fill="#262626" text-anchor="end" >0</text>
<line x1="178.6" y1="442.4" x2="179.6" y2="442.4" stroke="#888" stroke-width="0.6"/>
<text transform="translate(175.00,447.27) scale(1,1.05)" font-size="10" font-weight="normal" fill="#262626" text-anchor="end" >0.5</text>
<line x1="178.6" y1="410.4" x2="179.6" y2="410.4" stroke="#888" stroke-width="0.6"/>
<text transform="translate(175.00,415.33) scale(1,1.05)" font-size="10" font-weight="normal" fill="#262626" text-anchor="end" >1</text>
<line x1="178.6" y1="378.5" x2="179.6" y2="378.5" stroke="#888" stroke-width="0.6"/>
<text transform="translate(175.00,383.40) scale(1,1.05)" font-size="10" font-weight="normal" fill="#262626" text-anchor="end" >1.5</text>
<line x1="184.3" y1="474.3" x2="184.3" y2="473.3" stroke="#888" stroke-width="0.6"/>
<text transform="translate(184.31,489.60) scale(1,1.05)" font-size="10" font-weight="normal" fill="#262626" text-anchor="middle" >VMF</text>
<line x1="212.8" y1="474.3" x2="212.8" y2="473.3" stroke="#888" stroke-width="0.6"/>
<text transform="translate(212.85,489.60) scale(1,1.05)" font-size="10" font-weight="normal" fill="#262626" text-anchor="middle" >FC</text>
<line x1="241.4" y1="474.3" x2="241.4" y2="473.3" stroke="#888" stroke-width="0.6"/>
<text transform="translate(241.39,489.60) scale(1,1.05)" font-size="10" font-weight="normal" fill="#262626" text-anchor="middle" >HC</text>
<text transform="translate(212.50,371.80) scale(1,1.07)" font-size="11.3" font-weight="bold" fill="#000" text-anchor="middle" >alpha</text>
<text transform="translate(156.2,426.9) rotate(-90)" font-size="11" fill="#262626" text-anchor="middle" textLength="85" lengthAdjust="spacingAndGlyphs">param estimates</text>
<circle cx="187.8" cy="426.6" r="1.8" fill="none" stroke="#c8453a" stroke-width="0.72"/>
<circle cx="184.9" cy="436.9" r="1.8" fill="none" stroke="#c8453a" stroke-width="0.72"/>
<circle cx="185.3" cy="440.7" r="1.8" fill="none" stroke="#c8453a" stroke-width="0.72"/>
<circle cx="181.6" cy="445.7" r="1.8" fill="none" stroke="#c8453a" stroke-width="0.72"/>
<circle cx="187.3" cy="449" r="1.8" fill="none" stroke="#c8453a" stroke-width="0.72"/>
<circle cx="181.1" cy="449.7" r="1.8" fill="none" stroke="#c8453a" stroke-width="0.72"/>
<circle cx="180.5" cy="452.3" r="1.8" fill="none" stroke="#c8453a" stroke-width="0.72"/>
<circle cx="182.1" cy="451.3" r="1.8" fill="none" stroke="#c8453a" stroke-width="0.72"/>
<circle cx="186.1" cy="452.8" r="1.8" fill="none" stroke="#c8453a" stroke-width="0.72"/>
<circle cx="186.6" cy="458.8" r="1.8" fill="none" stroke="#c8453a" stroke-width="0.72"/>
<circle cx="180.2" cy="459.8" r="1.8" fill="none" stroke="#c8453a" stroke-width="0.72"/>
<circle cx="216.6" cy="431.6" r="1.8" fill="none" stroke="#5a78d0" stroke-width="0.72"/>
<circle cx="208.6" cy="444.7" r="1.8" fill="none" stroke="#5a78d0" stroke-width="0.72"/>
<circle cx="211.6" cy="444.2" r="1.8" fill="none" stroke="#5a78d0" stroke-width="0.72"/>
<circle cx="216.6" cy="445" r="1.8" fill="none" stroke="#5a78d0" stroke-width="0.72"/>
<circle cx="209.9" cy="445.2" r="1.8" fill="none" stroke="#5a78d0" stroke-width="0.72"/>
<circle cx="208.6" cy="451.1" r="1.8" fill="none" stroke="#5a78d0" stroke-width="0.72"/>
<circle cx="214.9" cy="451.5" r="1.8" fill="none" stroke="#5a78d0" stroke-width="0.72"/>
<circle cx="213.9" cy="457.8" r="1.8" fill="none" stroke="#5a78d0" stroke-width="0.72"/>
<circle cx="217" cy="457.8" r="1.8" fill="none" stroke="#5a78d0" stroke-width="0.72"/>
<circle cx="211" cy="446" r="1.8" fill="none" stroke="#5a78d0" stroke-width="0.72"/>
<circle cx="239.1" cy="392.7" r="1.8" fill="none" stroke="#9d58d4" stroke-width="0.72"/>
<circle cx="239.9" cy="415.2" r="1.8" fill="none" stroke="#9d58d4" stroke-width="0.72"/>
<circle cx="237.3" cy="428.6" r="1.8" fill="none" stroke="#9d58d4" stroke-width="0.72"/>
<circle cx="239.9" cy="426.9" r="1.8" fill="none" stroke="#9d58d4" stroke-width="0.72"/>
<circle cx="238.6" cy="438.2" r="1.8" fill="none" stroke="#9d58d4" stroke-width="0.72"/>
<circle cx="239.3" cy="440.7" r="1.8" fill="none" stroke="#9d58d4" stroke-width="0.72"/>
<circle cx="238.9" cy="447.1" r="1.8" fill="none" stroke="#9d58d4" stroke-width="0.72"/>
<circle cx="241.6" cy="448.3" r="1.8" fill="none" stroke="#9d58d4" stroke-width="0.72"/>
<circle cx="245.2" cy="448.8" r="1.8" fill="none" stroke="#9d58d4" stroke-width="0.72"/>
<circle cx="246.2" cy="450.1" r="1.8" fill="none" stroke="#9d58d4" stroke-width="0.72"/>
<circle cx="238.9" cy="452.8" r="1.8" fill="none" stroke="#9d58d4" stroke-width="0.72"/>
<circle cx="241.9" cy="452.5" r="1.8" fill="none" stroke="#9d58d4" stroke-width="0.72"/>
<circle cx="245" cy="456.6" r="1.8" fill="none" stroke="#9d58d4" stroke-width="0.72"/>
<circle cx="237.1" cy="458.9" r="1.8" fill="none" stroke="#9d58d4" stroke-width="0.72"/>
<circle cx="240.1" cy="460.4" r="1.8" fill="none" stroke="#9d58d4" stroke-width="0.72"/>
<circle cx="237.3" cy="463.9" r="1.8" fill="none" stroke="#9d58d4" stroke-width="0.72"/>
<line x1="184.3" y1="443.5" x2="184.3" y2="450.5" stroke="#858585" stroke-width="1"/>
<line x1="178.6" y1="447" x2="190.0" y2="447" stroke="#000" stroke-width="1.9"/>
<line x1="212.8" y1="444.5" x2="212.8" y2="450.5" stroke="#858585" stroke-width="1"/>
<line x1="207.2" y1="447.4" x2="218.5" y2="447.4" stroke="#000" stroke-width="1.9"/>
<line x1="241.4" y1="439" x2="241.4" y2="447.5" stroke="#858585" stroke-width="1"/>
<line x1="235.7" y1="443.4" x2="247.1" y2="443.4" stroke="#000" stroke-width="1.9"/>
<text x="390.9" y="234.3" font-size="20" fill="#111" textLength="16.7" lengthAdjust="spacingAndGlyphs">C.</text>
<rect x="442.1" y="240.5" width="242.19999999999993" height="214.10000000000002" fill="none" stroke="#b5b5b5" stroke-width="1"/>
<rect x="442.10" y="453.20" width="6.05" height="1.40" fill="rgba(0,114,189,0.6)" stroke="rgba(38,38,38,0.45)" stroke-width="0.5"/>
<rect x="442.10" y="453.90" width="6.05" height="0.70" fill="rgba(217,83,25,0.6)" stroke="rgba(38,38,38,0.45)" stroke-width="0.5"/>
<rect x="448.16" y="453.50" width="6.05" height="1.10" fill="rgba(0,114,189,0.6)" stroke="rgba(38,38,38,0.45)" stroke-width="0.5"/>
<rect x="448.16" y="454.00" width="6.05" height="0.60" fill="rgba(217,83,25,0.6)" stroke="rgba(38,38,38,0.45)" stroke-width="0.5"/>
<rect x="454.21" y="453.30" width="6.05" height="1.30" fill="rgba(0,114,189,0.6)" stroke="rgba(38,38,38,0.45)" stroke-width="0.5"/>
<rect x="454.21" y="453.90" width="6.05" height="0.70" fill="rgba(217,83,25,0.6)" stroke="rgba(38,38,38,0.45)" stroke-width="0.5"/>
<rect x="460.26" y="453.00" width="6.05" height="1.60" fill="rgba(0,114,189,0.6)" stroke="rgba(38,38,38,0.45)" stroke-width="0.5"/>
<rect x="460.26" y="453.90" width="6.05" height="0.70" fill="rgba(217,83,25,0.6)" stroke="rgba(38,38,38,0.45)" stroke-width="0.5"/>
<rect x="466.32" y="452.10" width="6.05" height="2.50" fill="rgba(0,114,189,0.6)" stroke="rgba(38,38,38,0.45)" stroke-width="0.5"/>
<rect x="466.32" y="453.90" width="6.05" height="0.70" fill="rgba(217,83,25,0.6)" stroke="rgba(38,38,38,0.45)" stroke-width="0.5"/>
<rect x="472.38" y="451.90" width="6.05" height="2.70" fill="rgba(0,114,189,0.6)" stroke="rgba(38,38,38,0.45)" stroke-width="0.5"/>
<rect x="472.38" y="453.20" width="6.05" height="1.40" fill="rgba(217,83,25,0.6)" stroke="rgba(38,38,38,0.45)" stroke-width="0.5"/>
<rect x="478.43" y="452.80" width="6.05" height="1.80" fill="rgba(0,114,189,0.6)" stroke="rgba(38,38,38,0.45)" stroke-width="0.5"/>
<rect x="478.43" y="452.10" width="6.05" height="2.50" fill="rgba(217,83,25,0.6)" stroke="rgba(38,38,38,0.45)" stroke-width="0.5"/>
<rect x="484.49" y="450.90" width="6.05" height="3.70" fill="rgba(0,114,189,0.6)" stroke="rgba(38,38,38,0.45)" stroke-width="0.5"/>
<rect x="484.49" y="452.70" width="6.05" height="1.90" fill="rgba(217,83,25,0.6)" stroke="rgba(38,38,38,0.45)" stroke-width="0.5"/>
<rect x="490.54" y="450.00" width="6.05" height="4.60" fill="rgba(0,114,189,0.6)" stroke="rgba(38,38,38,0.45)" stroke-width="0.5"/>
<rect x="490.54" y="451.80" width="6.05" height="2.80" fill="rgba(217,83,25,0.6)" stroke="rgba(38,38,38,0.45)" stroke-width="0.5"/>
<rect x="496.60" y="449.30" width="6.05" height="5.30" fill="rgba(0,114,189,0.6)" stroke="rgba(38,38,38,0.45)" stroke-width="0.5"/>
<rect x="496.60" y="451.60" width="6.05" height="3.00" fill="rgba(217,83,25,0.6)" stroke="rgba(38,38,38,0.45)" stroke-width="0.5"/>
<rect x="502.65" y="448.40" width="6.05" height="6.20" fill="rgba(0,114,189,0.6)" stroke="rgba(38,38,38,0.45)" stroke-width="0.5"/>
<rect x="502.65" y="449.00" width="6.05" height="5.60" fill="rgba(217,83,25,0.6)" stroke="rgba(38,38,38,0.45)" stroke-width="0.5"/>
<rect x="508.70" y="447.80" width="6.05" height="6.80" fill="rgba(0,114,189,0.6)" stroke="rgba(38,38,38,0.45)" stroke-width="0.5"/>
<rect x="508.70" y="448.00" width="6.05" height="6.60" fill="rgba(217,83,25,0.6)" stroke="rgba(38,38,38,0.45)" stroke-width="0.5"/>
<rect x="514.76" y="446.50" width="6.05" height="8.10" fill="rgba(0,114,189,0.6)" stroke="rgba(38,38,38,0.45)" stroke-width="0.5"/>
<rect x="514.76" y="446.60" width="6.05" height="8.00" fill="rgba(217,83,25,0.6)" stroke="rgba(38,38,38,0.45)" stroke-width="0.5"/>
<rect x="520.82" y="446.10" width="6.05" height="8.50" fill="rgba(0,114,189,0.6)" stroke="rgba(38,38,38,0.45)" stroke-width="0.5"/>
<rect x="520.82" y="443.10" width="6.05" height="11.50" fill="rgba(217,83,25,0.6)" stroke="rgba(38,38,38,0.45)" stroke-width="0.5"/>
<rect x="526.87" y="444.30" width="6.05" height="10.30" fill="rgba(0,114,189,0.6)" stroke="rgba(38,38,38,0.45)" stroke-width="0.5"/>
<rect x="526.87" y="441.30" width="6.05" height="13.30" fill="rgba(217,83,25,0.6)" stroke="rgba(38,38,38,0.45)" stroke-width="0.5"/>
<rect x="532.92" y="444.30" width="6.05" height="10.30" fill="rgba(0,114,189,0.6)" stroke="rgba(38,38,38,0.45)" stroke-width="0.5"/>
<rect x="532.92" y="436.00" width="6.05" height="18.60" fill="rgba(217,83,25,0.6)" stroke="rgba(38,38,38,0.45)" stroke-width="0.5"/>
<rect x="538.98" y="445.80" width="6.05" height="8.80" fill="rgba(0,114,189,0.6)" stroke="rgba(38,38,38,0.45)" stroke-width="0.5"/>
<rect x="538.98" y="437.00" width="6.05" height="17.60" fill="rgba(217,83,25,0.6)" stroke="rgba(38,38,38,0.45)" stroke-width="0.5"/>
<rect x="545.03" y="446.10" width="6.05" height="8.50" fill="rgba(0,114,189,0.6)" stroke="rgba(38,38,38,0.45)" stroke-width="0.5"/>
<rect x="545.03" y="439.50" width="6.05" height="15.10" fill="rgba(217,83,25,0.6)" stroke="rgba(38,38,38,0.45)" stroke-width="0.5"/>
<rect x="551.09" y="451.10" width="6.05" height="3.50" fill="rgba(0,114,189,0.6)" stroke="rgba(38,38,38,0.45)" stroke-width="0.5"/>
<rect x="551.09" y="441.00" width="6.05" height="13.60" fill="rgba(217,83,25,0.6)" stroke="rgba(38,38,38,0.45)" stroke-width="0.5"/>
<rect x="557.14" y="453.90" width="6.05" height="0.70" fill="rgba(0,114,189,0.6)" stroke="rgba(38,38,38,0.45)" stroke-width="0.5"/>
<rect x="557.14" y="453.90" width="6.05" height="0.70" fill="rgba(217,83,25,0.6)" stroke="rgba(38,38,38,0.45)" stroke-width="0.5"/>
<rect x="563.20" y="453.60" width="6.05" height="1.00" fill="rgba(0,114,189,0.6)" stroke="rgba(38,38,38,0.45)" stroke-width="0.5"/>
<rect x="563.20" y="453.60" width="6.05" height="1.00" fill="rgba(217,83,25,0.6)" stroke="rgba(38,38,38,0.45)" stroke-width="0.5"/>
<rect x="569.25" y="370.80" width="6.05" height="83.80" fill="rgba(0,114,189,0.6)" stroke="rgba(38,38,38,0.45)" stroke-width="0.5"/>
<rect x="569.25" y="366.60" width="6.05" height="88.00" fill="rgba(217,83,25,0.6)" stroke="rgba(38,38,38,0.45)" stroke-width="0.5"/>
<rect x="575.31" y="286.10" width="6.05" height="168.50" fill="rgba(0,114,189,0.6)" stroke="rgba(38,38,38,0.45)" stroke-width="0.5"/>
<rect x="575.31" y="263.10" width="6.05" height="191.50" fill="rgba(217,83,25,0.6)" stroke="rgba(38,38,38,0.45)" stroke-width="0.5"/>
<rect x="581.37" y="331.30" width="6.05" height="123.30" fill="rgba(0,114,189,0.6)" stroke="rgba(38,38,38,0.45)" stroke-width="0.5"/>
<rect x="581.37" y="323.30" width="6.05" height="131.30" fill="rgba(217,83,25,0.6)" stroke="rgba(38,38,38,0.45)" stroke-width="0.5"/>
<rect x="587.42" y="355.00" width="6.05" height="99.60" fill="rgba(0,114,189,0.6)" stroke="rgba(38,38,38,0.45)" stroke-width="0.5"/>
<rect x="587.42" y="360.40" width="6.05" height="94.20" fill="rgba(217,83,25,0.6)" stroke="rgba(38,38,38,0.45)" stroke-width="0.5"/>
<rect x="593.47" y="385.10" width="6.05" height="69.50" fill="rgba(0,114,189,0.6)" stroke="rgba(38,38,38,0.45)" stroke-width="0.5"/>
<rect x="593.47" y="391.00" width="6.05" height="63.60" fill="rgba(217,83,25,0.6)" stroke="rgba(38,38,38,0.45)" stroke-width="0.5"/>
<rect x="599.53" y="406.00" width="6.05" height="48.60" fill="rgba(0,114,189,0.6)" stroke="rgba(38,38,38,0.45)" stroke-width="0.5"/>
<rect x="599.53" y="412.80" width="6.05" height="41.80" fill="rgba(217,83,25,0.6)" stroke="rgba(38,38,38,0.45)" stroke-width="0.5"/>
<rect x="605.59" y="421.30" width="6.05" height="33.30" fill="rgba(0,114,189,0.6)" stroke="rgba(38,38,38,0.45)" stroke-width="0.5"/>
<rect x="605.59" y="423.30" width="6.05" height="31.30" fill="rgba(217,83,25,0.6)" stroke="rgba(38,38,38,0.45)" stroke-width="0.5"/>
<rect x="611.64" y="431.50" width="6.05" height="23.10" fill="rgba(0,114,189,0.6)" stroke="rgba(38,38,38,0.45)" stroke-width="0.5"/>
<rect x="611.64" y="435.10" width="6.05" height="19.50" fill="rgba(217,83,25,0.6)" stroke="rgba(38,38,38,0.45)" stroke-width="0.5"/>
<rect x="617.69" y="434.30" width="6.05" height="20.30" fill="rgba(0,114,189,0.6)" stroke="rgba(38,38,38,0.45)" stroke-width="0.5"/>
<rect x="617.69" y="441.40" width="6.05" height="13.20" fill="rgba(217,83,25,0.6)" stroke="rgba(38,38,38,0.45)" stroke-width="0.5"/>
<rect x="623.75" y="441.30" width="6.05" height="13.30" fill="rgba(0,114,189,0.6)" stroke="rgba(38,38,38,0.45)" stroke-width="0.5"/>
<rect x="623.75" y="446.30" width="6.05" height="8.30" fill="rgba(217,83,25,0.6)" stroke="rgba(38,38,38,0.45)" stroke-width="0.5"/>
<rect x="629.80" y="443.20" width="6.05" height="11.40" fill="rgba(0,114,189,0.6)" stroke="rgba(38,38,38,0.45)" stroke-width="0.5"/>
<rect x="629.80" y="447.50" width="6.05" height="7.10" fill="rgba(217,83,25,0.6)" stroke="rgba(38,38,38,0.45)" stroke-width="0.5"/>
<rect x="635.86" y="444.90" width="6.05" height="9.70" fill="rgba(0,114,189,0.6)" stroke="rgba(38,38,38,0.45)" stroke-width="0.5"/>
<rect x="635.86" y="449.50" width="6.05" height="5.10" fill="rgba(217,83,25,0.6)" stroke="rgba(38,38,38,0.45)" stroke-width="0.5"/>
<rect x="641.91" y="448.20" width="6.05" height="6.40" fill="rgba(0,114,189,0.6)" stroke="rgba(38,38,38,0.45)" stroke-width="0.5"/>
<rect x="641.91" y="450.60" width="6.05" height="4.00" fill="rgba(217,83,25,0.6)" stroke="rgba(38,38,38,0.45)" stroke-width="0.5"/>
<rect x="647.97" y="449.20" width="6.05" height="5.40" fill="rgba(0,114,189,0.6)" stroke="rgba(38,38,38,0.45)" stroke-width="0.5"/>
<rect x="647.97" y="451.60" width="6.05" height="3.00" fill="rgba(217,83,25,0.6)" stroke="rgba(38,38,38,0.45)" stroke-width="0.5"/>
<rect x="654.02" y="449.20" width="6.05" height="5.40" fill="rgba(0,114,189,0.6)" stroke="rgba(38,38,38,0.45)" stroke-width="0.5"/>
<rect x="654.02" y="451.30" width="6.05" height="3.30" fill="rgba(217,83,25,0.6)" stroke="rgba(38,38,38,0.45)" stroke-width="0.5"/>
<rect x="660.08" y="450.30" width="6.05" height="4.30" fill="rgba(0,114,189,0.6)" stroke="rgba(38,38,38,0.45)" stroke-width="0.5"/>
<rect x="660.08" y="452.00" width="6.05" height="2.60" fill="rgba(217,83,25,0.6)" stroke="rgba(38,38,38,0.45)" stroke-width="0.5"/>
<rect x="666.13" y="450.80" width="6.05" height="3.80" fill="rgba(0,114,189,0.6)" stroke="rgba(38,38,38,0.45)" stroke-width="0.5"/>
<rect x="666.13" y="452.80" width="6.05" height="1.80" fill="rgba(217,83,25,0.6)" stroke="rgba(38,38,38,0.45)" stroke-width="0.5"/>
<rect x="672.19" y="451.40" width="6.05" height="3.20" fill="rgba(0,114,189,0.6)" stroke="rgba(38,38,38,0.45)" stroke-width="0.5"/>
<rect x="672.19" y="453.00" width="6.05" height="1.60" fill="rgba(217,83,25,0.6)" stroke="rgba(38,38,38,0.45)" stroke-width="0.5"/>
<rect x="678.24" y="452.90" width="6.05" height="1.70" fill="rgba(0,114,189,0.6)" stroke="rgba(38,38,38,0.45)" stroke-width="0.5"/>
<rect x="678.24" y="453.90" width="6.05" height="0.70" fill="rgba(217,83,25,0.6)" stroke="rgba(38,38,38,0.45)" stroke-width="0.5"/>
<line x1="442.1" y1="454.6" x2="443.6" y2="454.6" stroke="#999" stroke-width="0.6"/>
<line x1="684.3" y1="454.6" x2="682.8" y2="454.6" stroke="#999" stroke-width="0.6"/>
<text transform="translate(438.70,458.30) scale(1,1.15)" font-size="9.2" font-weight="bold" fill="#262626" text-anchor="end" >0</text>
<line x1="442.1" y1="411.8" x2="443.6" y2="411.8" stroke="#999" stroke-width="0.6"/>
<line x1="684.3" y1="411.8" x2="682.8" y2="411.8" stroke="#999" stroke-width="0.6"/>
<text transform="translate(438.70,415.48) scale(1,1.15)" font-size="9.2" font-weight="bold" fill="#262626" text-anchor="end" >0.05</text>
<line x1="442.1" y1="369.0" x2="443.6" y2="369.0" stroke="#999" stroke-width="0.6"/>
<line x1="684.3" y1="369.0" x2="682.8" y2="369.0" stroke="#999" stroke-width="0.6"/>
<text transform="translate(438.70,372.66) scale(1,1.15)" font-size="9.2" font-weight="bold" fill="#262626" text-anchor="end" >0.1</text>
<line x1="442.1" y1="326.1" x2="443.6" y2="326.1" stroke="#999" stroke-width="0.6"/>
<line x1="684.3" y1="326.1" x2="682.8" y2="326.1" stroke="#999" stroke-width="0.6"/>
<text transform="translate(438.70,329.84) scale(1,1.15)" font-size="9.2" font-weight="bold" fill="#262626" text-anchor="end" >0.15</text>
<line x1="442.1" y1="283.3" x2="443.6" y2="283.3" stroke="#999" stroke-width="0.6"/>
<line x1="684.3" y1="283.3" x2="682.8" y2="283.3" stroke="#999" stroke-width="0.6"/>
<text transform="translate(438.70,287.02) scale(1,1.15)" font-size="9.2" font-weight="bold" fill="#262626" text-anchor="end" >0.2</text>
<line x1="442.1" y1="240.5" x2="443.6" y2="240.5" stroke="#999" stroke-width="0.6"/>
<line x1="684.3" y1="240.5" x2="682.8" y2="240.5" stroke="#999" stroke-width="0.6"/>
<text transform="translate(438.70,244.20) scale(1,1.15)" font-size="9.2" font-weight="bold" fill="#262626" text-anchor="end" >0.25</text>
<line x1="442.1" y1="454.6" x2="442.1" y2="453.1" stroke="#999" stroke-width="0.6"/>
<line x1="442.1" y1="240.5" x2="442.1" y2="242.0" stroke="#999" stroke-width="0.6"/>
<text transform="translate(442.10,468.30) scale(1,1.15)" font-size="9.2" font-weight="bold" fill="#262626" text-anchor="middle" >-1</text>
<line x1="502.6" y1="454.6" x2="502.6" y2="453.1" stroke="#999" stroke-width="0.6"/>
<line x1="502.6" y1="240.5" x2="502.6" y2="242.0" stroke="#999" stroke-width="0.6"/>
<text transform="translate(502.65,468.30) scale(1,1.15)" font-size="9.2" font-weight="bold" fill="#262626" text-anchor="middle" >-0.5</text>
<line x1="563.2" y1="454.6" x2="563.2" y2="453.1" stroke="#999" stroke-width="0.6"/>
<line x1="563.2" y1="240.5" x2="563.2" y2="242.0" stroke="#999" stroke-width="0.6"/>
<text transform="translate(563.20,468.30) scale(1,1.15)" font-size="9.2" font-weight="bold" fill="#262626" text-anchor="middle" >0</text>
<line x1="623.8" y1="454.6" x2="623.8" y2="453.1" stroke="#999" stroke-width="0.6"/>
<line x1="623.8" y1="240.5" x2="623.8" y2="242.0" stroke="#999" stroke-width="0.6"/>
<text transform="translate(623.75,468.30) scale(1,1.15)" font-size="9.2" font-weight="bold" fill="#262626" text-anchor="middle" >0.5</text>
<line x1="684.3" y1="454.6" x2="684.3" y2="453.1" stroke="#999" stroke-width="0.6"/>
<line x1="684.3" y1="240.5" x2="684.3" y2="242.0" stroke="#999" stroke-width="0.6"/>
<text transform="translate(684.30,468.30) scale(1,1.15)" font-size="9.2" font-weight="bold" fill="#262626" text-anchor="middle" >1</text>
<text transform="translate(416.9,347.1) rotate(-90)" font-size="10.2" font-weight="bold" fill="#262626" text-anchor="middle" textLength="117" lengthAdjust="spacingAndGlyphs">Normalized bin counts</text>
<text x="558.4" y="492" font-size="10" font-weight="bold" fill="#262626" text-anchor="middle" textLength="88.7" lengthAdjust="spacingAndGlyphs">Reaction time (ms)</text>
<text transform="translate(515.60,480.60) scale(1,1.1)" font-size="13.4" font-weight="normal" fill="#262626" text-anchor="middle" >errors</text>
<text transform="translate(625.20,480.60) scale(1,1.1)" font-size="13.5" font-weight="normal" fill="#262626" text-anchor="middle" >correct choices</text>
<path d="M659.8,489.2 L663.6,493.2 M659.8,493.2 L663.6,489.2" stroke="#333" stroke-width="0.75"/>
<text x="665.6" y="494.6" font-size="10.3" fill="#262626" textLength="9.6" lengthAdjust="spacingAndGlyphs">10</text>
<text x="675.7" y="489.6" font-size="7.3" fill="#262626">4</text>
<rect x="643" y="245.3" width="36.6" height="24.1" fill="#fff" stroke="#c8c8c8" stroke-width="0.8"/>
<rect x="644.8" y="247.3" width="14" height="8.4" fill="rgba(0,114,189,0.55)" stroke="rgba(38,38,38,0.4)" stroke-width="0.4"/>
<rect x="644.8" y="258.8" width="14" height="8.4" fill="rgba(217,83,25,0.55)" stroke="rgba(38,38,38,0.4)" stroke-width="0.4"/>
<text transform="translate(660.20,255.10) scale(1,1.1)" font-size="8.3" font-weight="bold" fill="#000" text-anchor="start" >HC</text>
<text transform="translate(660.20,266.10) scale(1,1.1)" font-size="8.3" font-weight="bold" fill="#000" text-anchor="start" >VMF</text>
</svg>
</body></html>
